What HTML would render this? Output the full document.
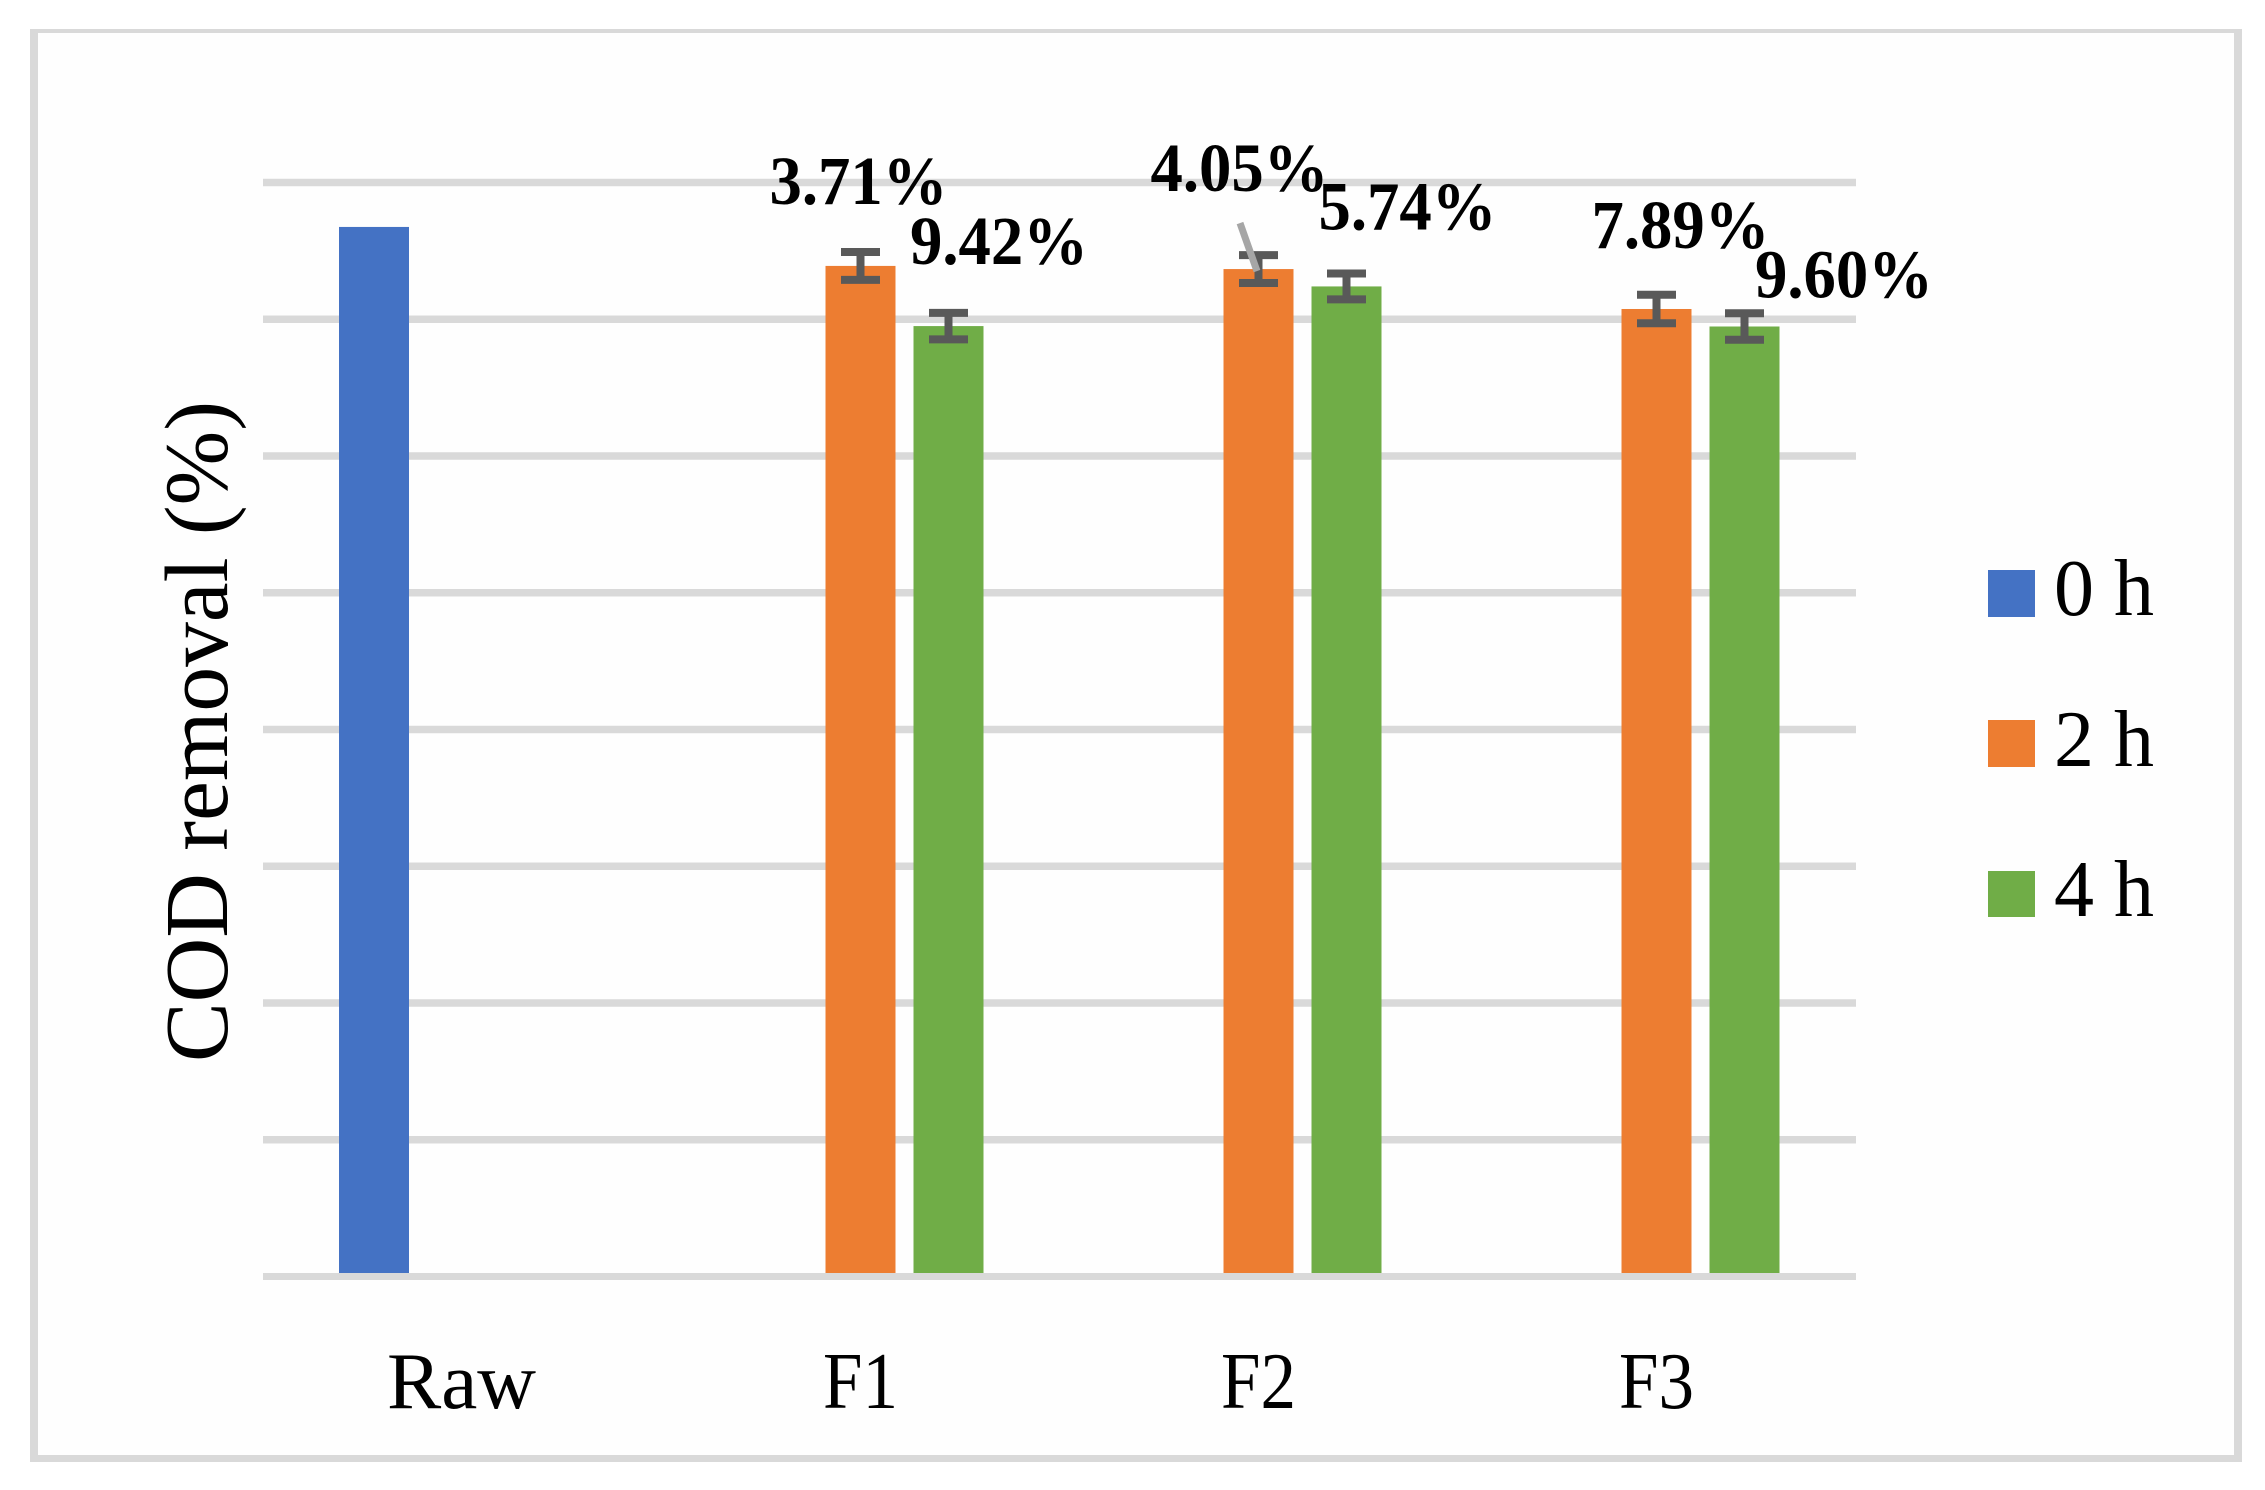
<!DOCTYPE html>
<html lang="en">
<head>
<meta charset="utf-8">
<title>COD removal chart</title>
<style>
html,body{margin:0;padding:0;background:#fff;width:2265px;height:1490px;overflow:hidden}
svg{display:block;position:absolute;left:0;top:0}
text{font-family:"Liberation Serif",serif;fill:#000}
</style>
</head>
<body>
<svg id="chart" width="2265" height="1490" viewBox="0 0 2265 1490" xmlns="http://www.w3.org/2000/svg">
  <rect x="34" y="31" width="2204" height="1428" fill="#fefefe"/>
  <rect x="30" y="29" width="2212" height="4" fill="#d9d9d9"/>
  <rect x="30" y="29" width="8" height="1433" fill="#d9d9d9"/>
  <rect x="2234" y="29" width="8" height="1433" fill="#d9d9d9"/>
  <rect x="30" y="1455" width="2212" height="7" fill="#d9d9d9"/>
  <text transform="translate(227,1062) rotate(-90)" font-size="90" textLength="661" lengthAdjust="spacingAndGlyphs">COD removal (%)</text>
  <g id="plot"></g>
  <g>
    <g>
      <rect x="1988" y="570" width="47" height="47" fill="#4472c4"/>
      <text x="2054" y="615" font-size="80">0 h</text>
    </g>
    <g>
      <rect x="1988" y="720" width="47" height="47" fill="#ed7d31"/>
      <text x="2054" y="766" font-size="80">2 h</text>
    </g>
    <g>
      <rect x="1988" y="871" width="47" height="46" fill="#70ad47"/>
      <text x="2054" y="916" font-size="80">4 h</text>
    </g>
  </g>
</svg>
<script>
const categories = ['Raw', 'F1', 'F2', 'F3'];
const gridTicks = [0, 10, 20, 30, 40, 50, 60, 70, 80];
const values0h = [76.75, null, null, null];
const values2h = [null, 73.9, 73.67, 70.75];
const values4h = [null, 69.5, 72.4, 69.47];
const errors2h = [null, 1.02, 1.02, 1.04];
const errors4h = [null, 0.97, 0.95, 0.97];
const printed2h = [null, '3.71%', '4.05%', '7.89%'];
const printed4h = [null, '9.42%', '5.74%', '9.60%'];

const svgNS = 'http://www.w3.org/2000/svg';
const plot = document.getElementById('plot');

function yScale(v) { return 1276.5 - v * 13.675; }
function xScale(i) { return 462.5 + 398 * i; }

function make(tag, attrs, parent) {
  const el = document.createElementNS(svgNS, tag);
  for (const k in attrs) el.setAttribute(k, attrs[k]);
  (parent || plot).appendChild(el);
  return el;
}

gridTicks.forEach(function (t) {
  if (t === 0) return;
  const el = make('rect', { x: 263, y: yScale(t) - 3.75, width: 1593, height: 7.5, fill: '#d9d9d9' });
  
  
});

function drawBars(values, errors, color, offset, key) {
  values.forEach(function (v, i) {
    if (v === null) return;
    const cx = xScale(i) + offset;
    const bar = make('rect', { x: cx - 35, y: yScale(v), width: 70, height: yScale(0) - yScale(v), fill: color });
    
    
    if (!errors || errors[i] === null) return;
    const hi = yScale(v + errors[i]);
    const lo = yScale(v - errors[i]);
    const err = make('path', {
      d: 'M' + (cx - 19.5) + ' ' + hi + 'H' + (cx + 19.5) + 'M' + cx + ' ' + hi + 'V' + lo + 'M' + (cx - 19.5) + ' ' + lo + 'H' + (cx + 19.5),
      stroke: '#595959', 'stroke-width': 8, fill: 'none'
    });
    
    
  });
}

drawBars(values0h, null, '#4472c4', -88.5, '0h');
drawBars(values2h, errors2h, '#ed7d31', 0, '2h');
drawBars(values4h, errors4h, '#70ad47', 88, '4h');

const baseline = make('rect', { x: 263, y: yScale(0) - 3.5, width: 1593, height: 7, fill: '#d9d9d9' });



categories.forEach(function (c, i) {
  const el = make('text', { x: xScale(i) - (i === 0 ? 1 : 0), y: 1408, 'font-size': 80, 'text-anchor': 'middle', textLength: i === 0 ? 149 : 75, lengthAdjust: 'spacingAndGlyphs' });
  el.textContent = c;
  
  
});

// Leader line joining the F2 2 h bar to its printed label.
const leaderTop = yScale(values2h[2]);
const leader = make('line', {
  x1: xScale(2) - 18.5, y1: leaderTop - 46, x2: xScale(2) - 1.5, y2: leaderTop + 2,
  stroke: '#a6a6a6', 'stroke-width': 7
});



// Hand placement of the printed labels relative to each bar top.
const nudge2h = [null, [-2, -62], [-19, -78], [24, -61]];
const nudge4h = [null, [50.5, -62], [61, -57], [99.5, -29]];

function drawPrinted(printed, values, offset, nudge, key) {
  printed.forEach(function (s, i) {
    if (s === null) return;
    const el = make('text', {
      x: xScale(i) + offset + nudge[i][0],
      y: yScale(values[i]) + nudge[i][1],
      'font-size': 69, 'font-weight': 'bold', 'text-anchor': 'middle',
      textLength: 178, lengthAdjust: 'spacingAndGlyphs'
    });
    el.textContent = s;
    
    
  });
}

drawPrinted(printed2h, values2h, 0, nudge2h, '2h');
drawPrinted(printed4h, values4h, 88, nudge4h, '4h');
</script>
</body>
</html>
